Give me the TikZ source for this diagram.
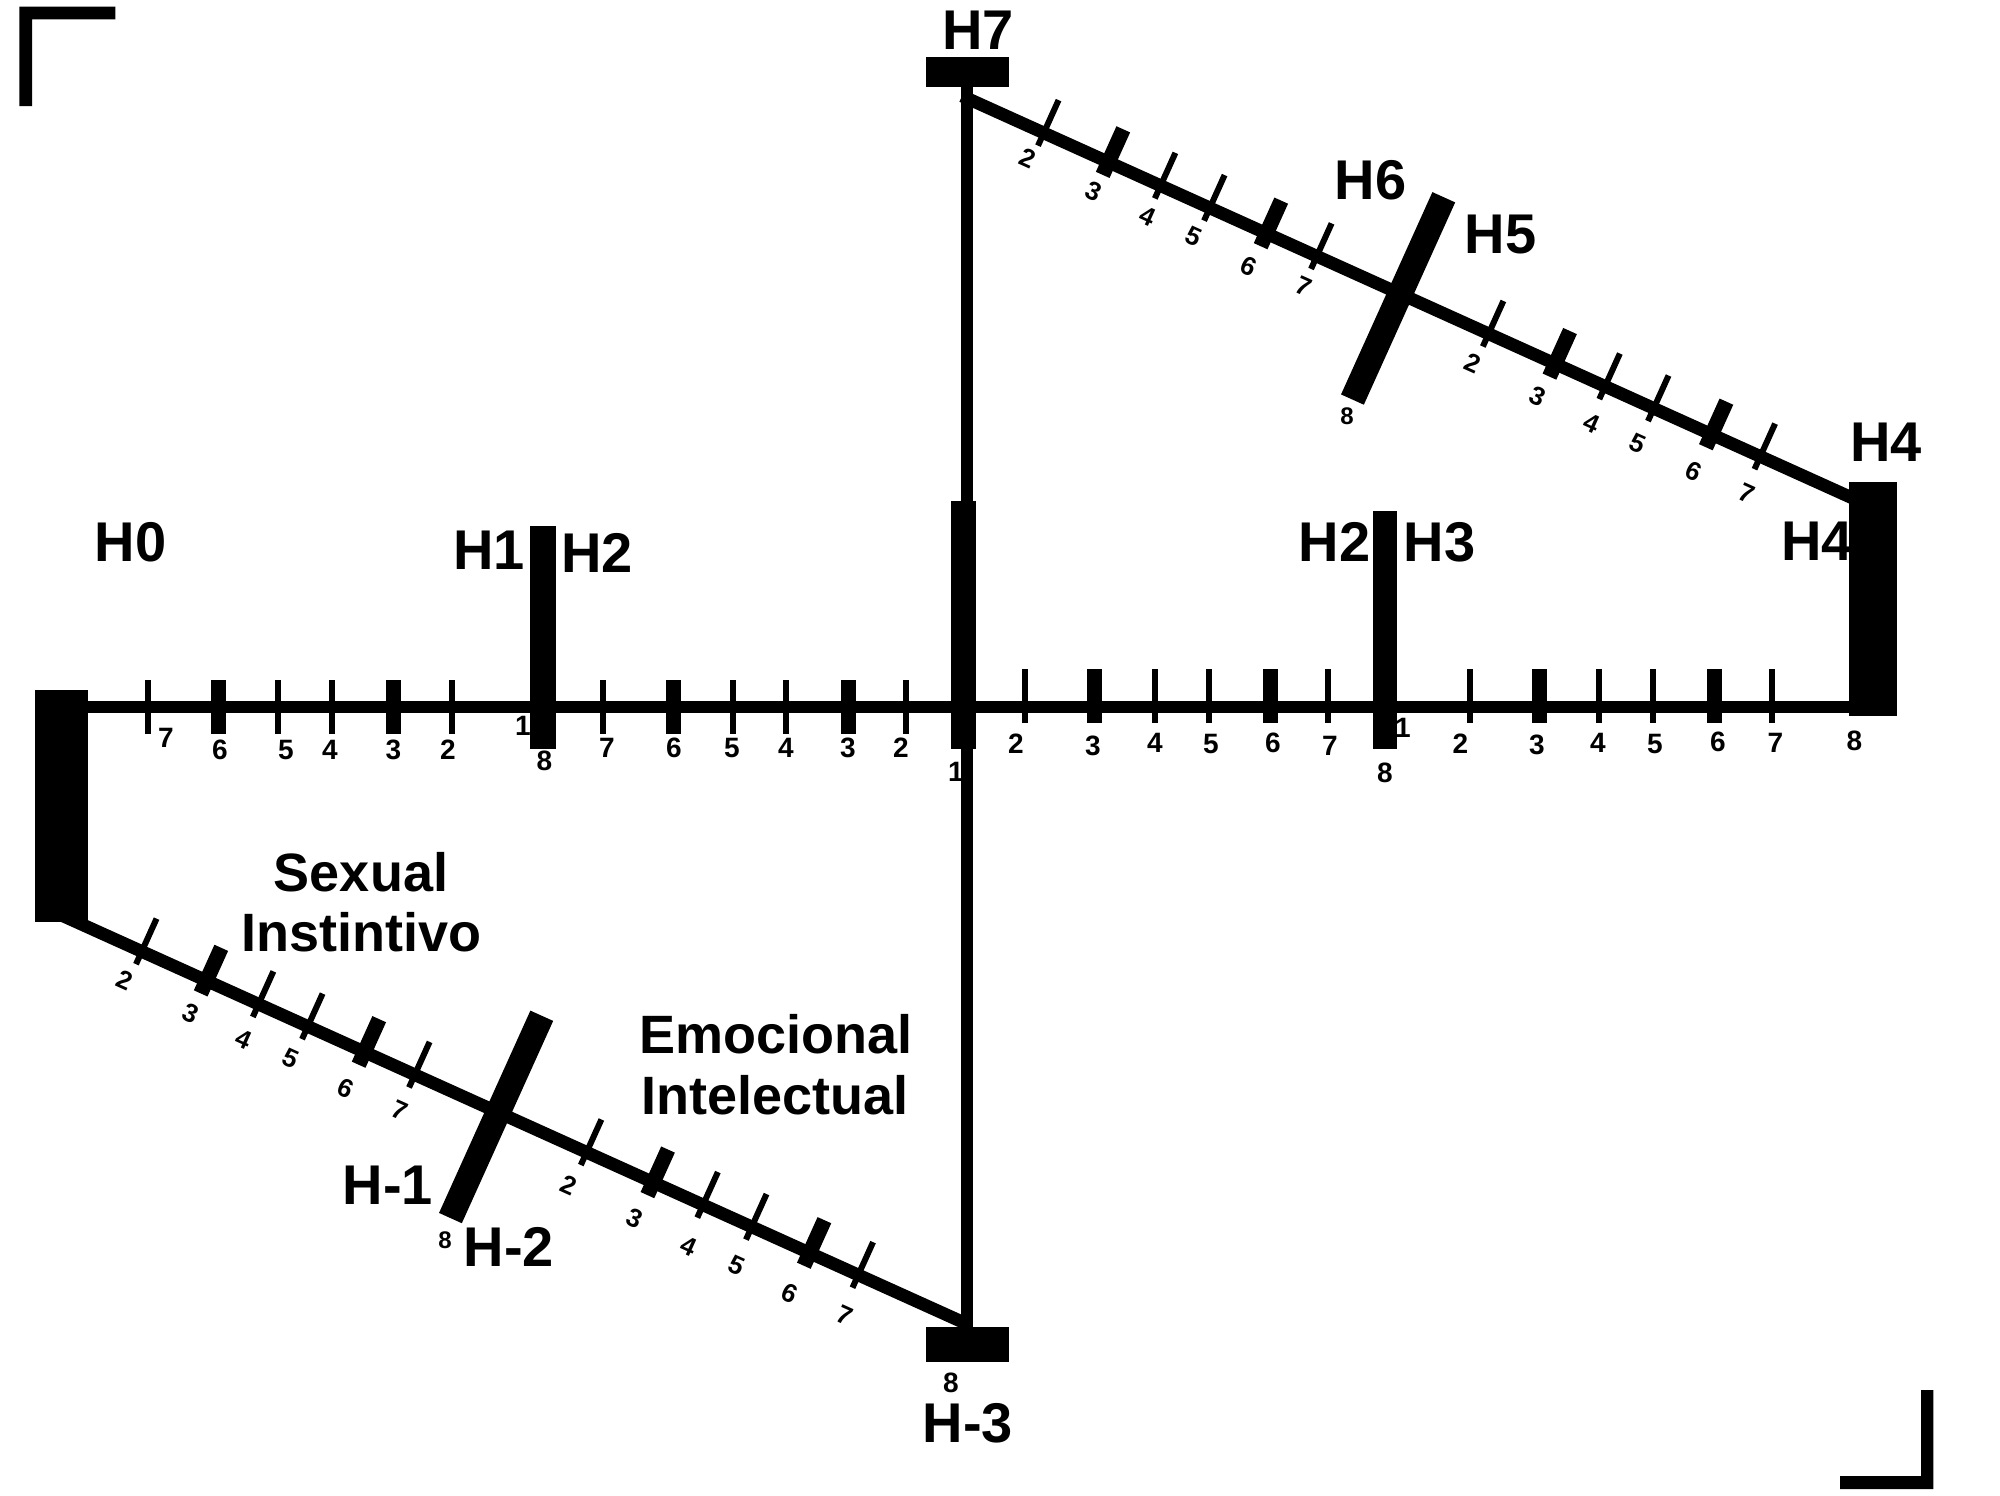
\documentclass[tikz,border=0pt]{standalone}
\usepackage{fontspec}
\setmainfont{Liberation Sans}
\usetikzlibrary{calc}
\begin{document}
\begin{tikzpicture}[x=0.5pt,y=-0.5pt,
  rail/.style={line width=6.35pt},
  vrail/.style={line width=6pt},
  tkthin/.style={line width=3pt},
  tkthick/.style={line width=7.5pt},
  slab/.style={line width=12.5pt},
  num/.style={font=\fontsize{14}{14}\selectfont\bfseries, inner sep=0pt},
  dnum/.style={font=\fontsize{13}{13}\selectfont\bfseries, inner sep=0pt, rotate=-24.3},
  snum/.style={font=\fontsize{12}{12}\selectfont\bfseries, inner sep=0pt},
  big/.style={font=\fontsize{28}{28}\selectfont\bfseries, inner sep=0pt},
  word/.style={font=\fontsize{27}{27}\selectfont\bfseries, inner sep=0pt}]
\fill[white] (0,0) rectangle (2000,1495);
\useasboundingbox (0,0) rectangle (2000,1495);

% corner marks
\fill (19.3,6.7) -- (115.3,6.7) -- (115.3,19.3) -- (32,19.3) -- (32,106) -- (19.3,106) -- cycle;
\fill (1933.3,1489) -- (1840,1489) -- (1840,1476) -- (1921,1476) -- (1921,1390) -- (1933.3,1390) -- cycle;

% main axes
\coordinate (ML) at (60,707);
\coordinate (MR) at (1870,707);
\coordinate (VT) at (967,80);
\coordinate (VB) at (967,1335);
\coordinate (LS) at (60,914.5);
\coordinate (US) at (962,96);

\draw[rail] (ML) -- (MR);
\draw[vrail] (VT) -- (VB);

% ticks on main line
\foreach \x in {148,278,332,451.5,602.7,733,786,905.6} \draw[tkthin] (\x,680) -- (\x,734);
\foreach \x in {218,393.5,673,848} \draw[tkthick] (\x,680) -- (\x,734);
\foreach \x in {1025,1155,1209,1328,1469.7,1599,1653,1772} \draw[tkthin] (\x,669) -- (\x,723);
\foreach \x in {1094.6,1270.8,1539,1714} \draw[tkthick] (\x,669) -- (\x,723);

% lower diagonal
\begin{scope}[shift={(LS)},rotate=-24.3]
  \coordinate (LO) at (0,0);
  \coordinate (LE) at (995.2,0);
  \draw[rail] (LO) -- (LE);
  \foreach \d in {89.7,217.9,271.9,389.3,577.8,705.6,759,875.9} \draw[tkthin] (\d,-36) -- (\d,14);
  \foreach \d in {160.7,334,650.9,822.5} \draw[tkthick] (\d,-36) -- (\d,14);
  \coordinate (LBa) at (480.8,-106);
  \coordinate (LBb) at (480.8,116);
  \draw[slab] (LBa) -- (LBb);
\end{scope}

% upper diagonal
\begin{scope}[shift={(US)},rotate=-24.3]
  \coordinate (UO) at (0,0);
  \coordinate (UE) at (985,0);
  \draw[rail] (UO) -- (UE);
  \foreach \d in {89.7,217.9,271.9,389.3,577.8,705.6,759,875.9} \draw[tkthin] (\d,-36) -- (\d,14);
  \foreach \d in {160.7,334,650.9,822.5} \draw[tkthick] (\d,-36) -- (\d,14);
  \coordinate (UBa) at (480.8,-106);
  \coordinate (UBb) at (480.8,116);
  \draw[slab] (UBa) -- (UBb);
\end{scope}

% bars
\fill (35,690) rectangle (88,922);
\fill (530,526) rectangle (556,749);
\fill (951,501) rectangle (976,749);
\fill (1373,511) rectangle (1397,749);
\fill (1849,482) rectangle (1897,716);
\fill (926,57) rectangle (1009,87);
\fill (926,1327) rectangle (1009,1362);

% numbers on main line
\foreach \x/\y/\t [count=\k] in {166/738/7, 220/750/6, 286/750/5, 330/750/4, 393.5/750/3, 448/750/2, 523/726/1, 544.5/761/8,
  607/748/7, 674/748/6, 732/748/5, 786/748/4, 848/748/3, 901/748/2, 956/772/1,
  1016/744/2, 1093/746/3, 1155/743/4, 1211/744/5, 1273/743/6, 1330/746/7, 1403/728/1, 1385/773/8,
  1460.5/743.5/2, 1537/745/3, 1598/742.5/4, 1655/743.5/5, 1718/741.5/6, 1775.5/742.5/7, 1854.5/740.5/8}
  \node[num] (m\k) at (\x,\y) {\t};

% numbers on diagonals
\foreach \x/\y/\t [count=\k] in {125/980/2, 190.7/1013.3/3, 244/1039.3/4, 290.7/1058.3/5, 346/1088.3/6, 400/1110/7,
  569.3/1185/2, 635/1218.3/3, 688.3/1246.7/4, 736.7/1265/5, 790/1293.3/6, 845/1315/7}
  \node[dnum] (l\k) at (\x,\y) {\t};
\foreach \x/\y/\t [count=\k] in {1028.3/158.3/2, 1093.3/191.7/3, 1147.3/216.7/4, 1193.3/236.7/5, 1248.3/266.7/6, 1304/286.7/7,
  1472.7/363.3/2, 1537.3/396/3, 1591.7/423.3/4, 1637.3/443.3/5, 1693.3/471.7/6, 1746.7/493.3/7}
  \node[dnum] (u\k) at (\x,\y) {\t};
\node[snum] (e1) at (445,1240) {8};
\node[snum] (e2) at (1347,416) {8};
\node[num] (e3) at (951,1383) {8};

% big labels
\node[big] (h7) at (978,30) {H7};
\node[big] (h6) at (1370.5,180) {H6};
\node[big] (h5) at (1500.5,234) {H5};
\node[big] (h4a) at (1886,442.5) {H4};
\node[big] (h4b) at (1817,541.7) {H4};
\node[big] (h3) at (1439.5,542) {H3};
\node[big] (h2b) at (1334.5,542) {H2};
\node[big] (h0) at (130.5,542) {H0};
\node[big] (h1) at (489,550) {H1};
\node[big] (h2a) at (597,553) {H2};
\node[big] (hm1) at (388,1185) {H-1};
\node[big] (hm2) at (509,1247) {H-2};
\node[big] (hm3) at (968,1423) {H-3};

\node[word] (w1) at (361,872) {Sexual};
\node[word] (w2) at (361.5,931.7) {Instintivo};
\node[word] (w3) at (776,1034.5) {Emocional};
\node[word] (w4) at (774.7,1095) {Intelectual};
\end{tikzpicture}
\end{document}
